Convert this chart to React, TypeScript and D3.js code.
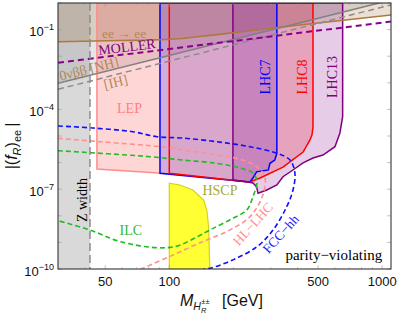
import React from 'react';
import * as d3 from 'd3';

const WIDTH = 398;
const HEIGHT = 316;
const PLOT = { left: 58, right: 391, top: 3, bottom: 269 };

// axes
const massDomain: [number, number] = [30, 1100];
const couplingDomain: [number, number] = [1e-10, 1];
const xTickValues = [50, 100, 500, 1000];
const xMinorTicks = [40, 60, 70, 80, 90, 200, 300, 400, 600, 700, 800, 900];
const yTickExponents = [-1, -4, -7, -10];
const yDecadeExponents = [0, -1, -2, -3, -4, -5, -6, -7, -8, -9, -10];

// excluded regions: [mass GeV, |f|]
const zWidthMass = 42.4;
const lepRegion = [[45.7, 1], [45.7, 5.7e-7], [100, 3.8e-7], [100, 1]];
const lhc7Region = [
  [90.4, 1], [90.4, 3.96e-7], [231, 1.91e-7], [239, 1.87e-7], [247, 2.64e-7],
  [257, 4.5e-7], [292, 5.3e-7], [297, 9.4e-7], [313, 1.25e-6], [320, 2.24e-6], [320, 1],
];
const lhc8Region = [
  [100, 1], [100, 3.96e-7], [231, 1.91e-7], [239, 1.87e-7], [267, 2.64e-7],
  [342, 6.8e-7], [425, 2.5e-6], [458, 7.1e-6], [468, 1.1e-5], [473, 2.2e-5], [473, 1],
];
const lhc13Region = [
  [199, 1], [199, 2.22e-7], [231, 1.91e-7], [247, 1.71e-7], [257, 1.24e-7], [261, 7.0e-8],
  [287, 9.3e-8], [320, 1.44e-7], [342, 2.95e-7], [381, 5.27e-7], [425, 9.7e-7],
  [473, 1.49e-6], [527, 1.93e-6], [600, 3.96e-6], [633, 1.3e-5], [652, 5.3e-5], [652, 1],
];
const hscpRegion = [
  [100, 1e-10], [100, 1.67e-7], [112, 1.44e-7], [129, 9.3e-8], [145, 3.9e-8],
  [150, 1.65e-8], [153, 3.8e-9], [155, 1e-10],
];

// current limits (solid) and prospects (dashed)
const eeToEe = [[30, 0.0351], [58.7, 0.0389], [81, 0.0406], [106, 0.0443], [139, 0.055], [239, 0.091], [411, 0.149], [1100, 0.354]];
const moller = [[30, 5.7e-3], [1100, 0.2]];
const zeroNuBBNH = [[30, 9.6e-4], [1100, 1.29]];
const zeroNuBBIH = [[30, 5.7e-4], [1100, 0.85]];
const fccHH = [
  [30, 2.38e-5], [43.7, 2.0e-5], [67.3, 1.45e-5], [87.7, 9.4e-6], [115, 8.4e-6], [167, 6.1e-6],
  [239, 3.96e-6], [320, 2.24e-6], [369, 1.25e-6], [389, 4.06e-7], [381, 9.3e-8], [356, 2.2e-8],
  [307, 2.9e-9], [258, 6.9e-10], [199, 2.2e-10], [155, 1.06e-10], [145, 1e-10],
];
const hlLHC = [
  [30, 8.2e-6], [47.2, 6.1e-6], [90.4, 3.96e-6], [115, 3.0e-6], [167, 1.93e-6], [222, 1.25e-6],
  [258, 7.0e-7], [281, 2.9e-7], [275, 6.0e-8], [239, 9.2e-9], [192, 2.9e-9], [150, 1.23e-9],
  [132, 8e-10], [100, 2.9e-10], [73.6, 1e-10],
];
const ilc = [
  [30, 2.8e-6], [81, 1.67e-6], [115, 1.25e-6], [167, 9.4e-7], [214, 6.3e-7], [247, 4.06e-7],
  [258, 1.91e-7], [247, 5.2e-8], [231, 1.65e-8], [192, 6.95e-9], [155, 2.92e-9], [132, 1.46e-9],
  [108, 7.2e-10], [88, 6.3e-10], [59, 1.06e-9], [42.4, 2.92e-9], [30, 6.55e-9],
];

const SERIF = '"Liberation Serif", "DejaVu Serif", serif';
const SANS = '"Liberation Sans", Arial, sans-serif';

export default function App() {
  const x = d3.scaleLog().domain(massDomain).range([PLOT.left, PLOT.right]);
  const y = d3.scaleLog().domain(couplingDomain).range([PLOT.bottom, PLOT.top]);
  const lin = d3.line<number[]>().x(d => x(d[0])).y(d => y(d[1]));
  const smooth = d3.line<number[]>().x(d => x(d[0])).y(d => y(d[1])).curve(d3.curveCatmullRom.alpha(0.5));
  const mono = d3.line<number[]>().x(d => x(d[0])).y(d => y(d[1])).curve(d3.curveMonotoneX);
  const above = (curve: any) =>
    d3.area<number[]>().x(d => x(d[0])).y0(PLOT.top - 10).y1(d => y(d[1])).curve(curve);
  const poly = (pts: number[][]) => (lin(pts) || '') + 'Z';

  const label = (
    text: React.ReactNode, m: number, f: number, color: string, rot = 0, size = 13.5,
    anchor: 'middle' | 'end' | 'start' = 'middle'
  ) => (
    <text
      transform={`translate(${x(m)},${y(f)}) rotate(${rot})`}
      textAnchor={anchor}
      dominantBaseline="central"
      fill={color}
      fontFamily={SERIF}
      fontSize={size}
    >
      {text}
    </text>
  );

  const tickColor = '#9a9a9a';

  return (
    <svg width={WIDTH} height={HEIGHT} style={{ position: 'absolute', left: 0, top: 0, background: '#fff' }}>
      <defs>
        <clipPath id="plot">
          <rect x={PLOT.left} y={PLOT.top} width={PLOT.right - PLOT.left} height={PLOT.bottom - PLOT.top} />
        </clipPath>
      </defs>
      <g clipPath="url(#plot)">
        {/* Z width */}
        <rect x={PLOT.left} y={PLOT.top} width={x(zWidthMass) - PLOT.left} height={PLOT.bottom - PLOT.top} fill="#d9d9d9" />
        {/* indirect limits fills */}
        <path d={above(d3.curveMonotoneX)(eeToEe) || ''} fill="#a0642a" fillOpacity={0.2} />
        <path d={above(d3.curveLinear)(zeroNuBBNH) || ''} fill="#808080" fillOpacity={0.2} />
        {/* collider fills */}
        <path d={poly(lepRegion)} fill="#ff0000" fillOpacity={0.16} />
        <path d={poly(lhc7Region)} fill="#0000ff" fillOpacity={0.18} />
        <path d={poly(lhc8Region)} fill="#ff0000" fillOpacity={0.2} />
        <path d={poly(lhc13Region)} fill="#800080" fillOpacity={0.2} />
        <path d={poly(hscpRegion)} fill="#ffff33" stroke="#d2d21e" strokeWidth={1.2} />
        {/* collider outlines */}
        <path d={poly(lepRegion)} fill="none" stroke="#ff8c8c" strokeWidth={1.5} />
        <path d={poly(lhc7Region)} fill="none" stroke="#0000ff" strokeWidth={1.5} />
        <path d={poly(lhc8Region)} fill="none" stroke="#ff0000" strokeWidth={1.5} />
        <path d={poly(lhc13Region)} fill="none" stroke="#800080" strokeWidth={1.5} />
        {/* indirect lines */}
        <path d={mono(eeToEe) || ''} fill="none" stroke="#b07840" strokeWidth={1.6} />
        <path d={lin(zeroNuBBNH) || ''} fill="none" stroke="#808080" strokeWidth={1.5} />
        <path d={lin(zeroNuBBIH) || ''} fill="none" stroke="#8c8c8c" strokeWidth={1.5} strokeDasharray="6,4" />
        <path d={lin(moller) || ''} fill="none" stroke="#8b008b" strokeWidth={2} strokeDasharray="6,4" />
        {/* prospects */}
        <path d={smooth(fccHH) || ''} fill="none" stroke="#1010ff" strokeWidth={1.6} strokeDasharray="5,3" />
        <path d={smooth(hlLHC) || ''} fill="none" stroke="#ff9090" strokeWidth={1.6} strokeDasharray="5,3" />
        <path d={smooth(ilc) || ''} fill="none" stroke="#22bb22" strokeWidth={1.6} strokeDasharray="5,3" />
        {/* Z width boundary */}
        <line x1={x(zWidthMass)} x2={x(zWidthMass)} y1={PLOT.top} y2={PLOT.bottom} stroke="#8c8c8c" strokeWidth={1.5} strokeDasharray="8,4" />
      </g>

      {/* labels */}
      {label('ee → ee', 61.3, 0.0745, '#b0885a', 0, 13.5)}
      {label('MOLLER', 63.3, 0.0222, '#800080', -7, 14)}
      {label('0νββ [NH]', 42, 3.3e-3, '#b0885a', -14, 14)}
      {label('[IH]', 56, 1.05e-3, '#b0885a', -14, 14)}
      {label('LEP', 65, 1.04e-4, '#ff8080', 0, 14)}
      {label('LHC7', 284.5, 1.65e-3, '#0000ff', -90, 14)}
      {label('LHC8', 423, 1.65e-3, '#ff0000', -90, 14)}
      {label('LHC13', 587, 1.65e-3, '#800080', -90, 14)}
      {label('Z width', 38.9, 3.9e-8, '#000', -90, 14)}
      {label('HSCP', 173, 9.3e-8, '#a8a830', 0, 14)}
      {label('ILC', 66, 2.9e-9, '#33bb33', 0, 14)}
      {label('HL−LHC', 247, 4.9e-9, '#ff9090', -48, 13.5)}
      {label('FCC−hh', 334, 2.07e-9, '#1a1aff', -48, 13.5)}
      {label('parity−violating', 1000, 3.36e-10, '#000', 0, 15, 'end')}

      {/* ticks */}
      {xTickValues.map(v => (
        <g key={'xt' + v}>
          <line x1={x(v)} x2={x(v)} y1={PLOT.bottom} y2={PLOT.bottom - 4} stroke={tickColor} strokeWidth={0.6} />
          <line x1={x(v)} x2={x(v)} y1={PLOT.top} y2={PLOT.top + 4} stroke={tickColor} strokeWidth={0.6} />
          <text x={x(v)} y={PLOT.bottom + 17} textAnchor="middle" fontFamily={SANS} fontSize={13} fill="#111">{v}</text>
        </g>
      ))}
      {xMinorTicks.map(v => (
        <g key={'xm' + v}>
          <line x1={x(v)} x2={x(v)} y1={PLOT.bottom} y2={PLOT.bottom - 2} stroke={tickColor} strokeWidth={0.5} />
          <line x1={x(v)} x2={x(v)} y1={PLOT.top} y2={PLOT.top + 2} stroke={tickColor} strokeWidth={0.5} />
        </g>
      ))}
      {yDecadeExponents.map(e => (
        <g key={'yd' + e}>
          <line x1={PLOT.left} x2={PLOT.left + 4} y1={y(10 ** e)} y2={y(10 ** e)} stroke={tickColor} strokeWidth={0.6} />
          <line x1={PLOT.right} x2={PLOT.right - 4} y1={y(10 ** e)} y2={y(10 ** e)} stroke={tickColor} strokeWidth={0.6} />
        </g>
      ))}
      {yTickExponents.map(e => (
        <text key={'yl' + e} x={PLOT.left - 4} y={y(10 ** e) + 6.5} textAnchor="end" fontFamily={SANS} fontSize={13} fill="#111">
          <tspan>10</tspan>
          <tspan dy={-6} fontSize={9}>{'−' + Math.abs(e)}</tspan>
        </text>
      ))}

      {/* frame */}
      <rect x={PLOT.left} y={PLOT.top} width={PLOT.right - PLOT.left} height={PLOT.bottom - PLOT.top} fill="none" stroke="#333" strokeWidth={1.1} />

      {/* axis titles */}
      <text x={180} y={306} fontFamily={SANS} fontSize={16} fill="#111">
        <tspan fontStyle="italic">M</tspan>
        <tspan fontStyle="italic" fontSize={10.5} dy={4}>H</tspan>
        <tspan fontStyle="italic" fontSize={7.5} dy={2.5}>R</tspan>
        <tspan fontSize={7.5} dx={-5} dy={-8.5}>±±</tspan>
      </text>
      <text x={222} y={306} fontFamily={SANS} fontSize={16} fill="#111">[GeV]</text>
      <text transform={`translate(17,${(PLOT.top + PLOT.bottom) / 2 + 10}) rotate(-90)`} textAnchor="middle" fontFamily={SANS} fontSize={16} fill="#111">
        <tspan>|(</tspan>
        <tspan fontStyle="italic">f</tspan>
        <tspan fontStyle="italic" fontSize={11} dy={4}>R</tspan>
        <tspan dy={-4}>)</tspan>
        <tspan fontSize={11} dy={4}>ee</tspan>
        <tspan dy={-4} dx={3}>|</tspan>
      </text>
    </svg>
  );
}
